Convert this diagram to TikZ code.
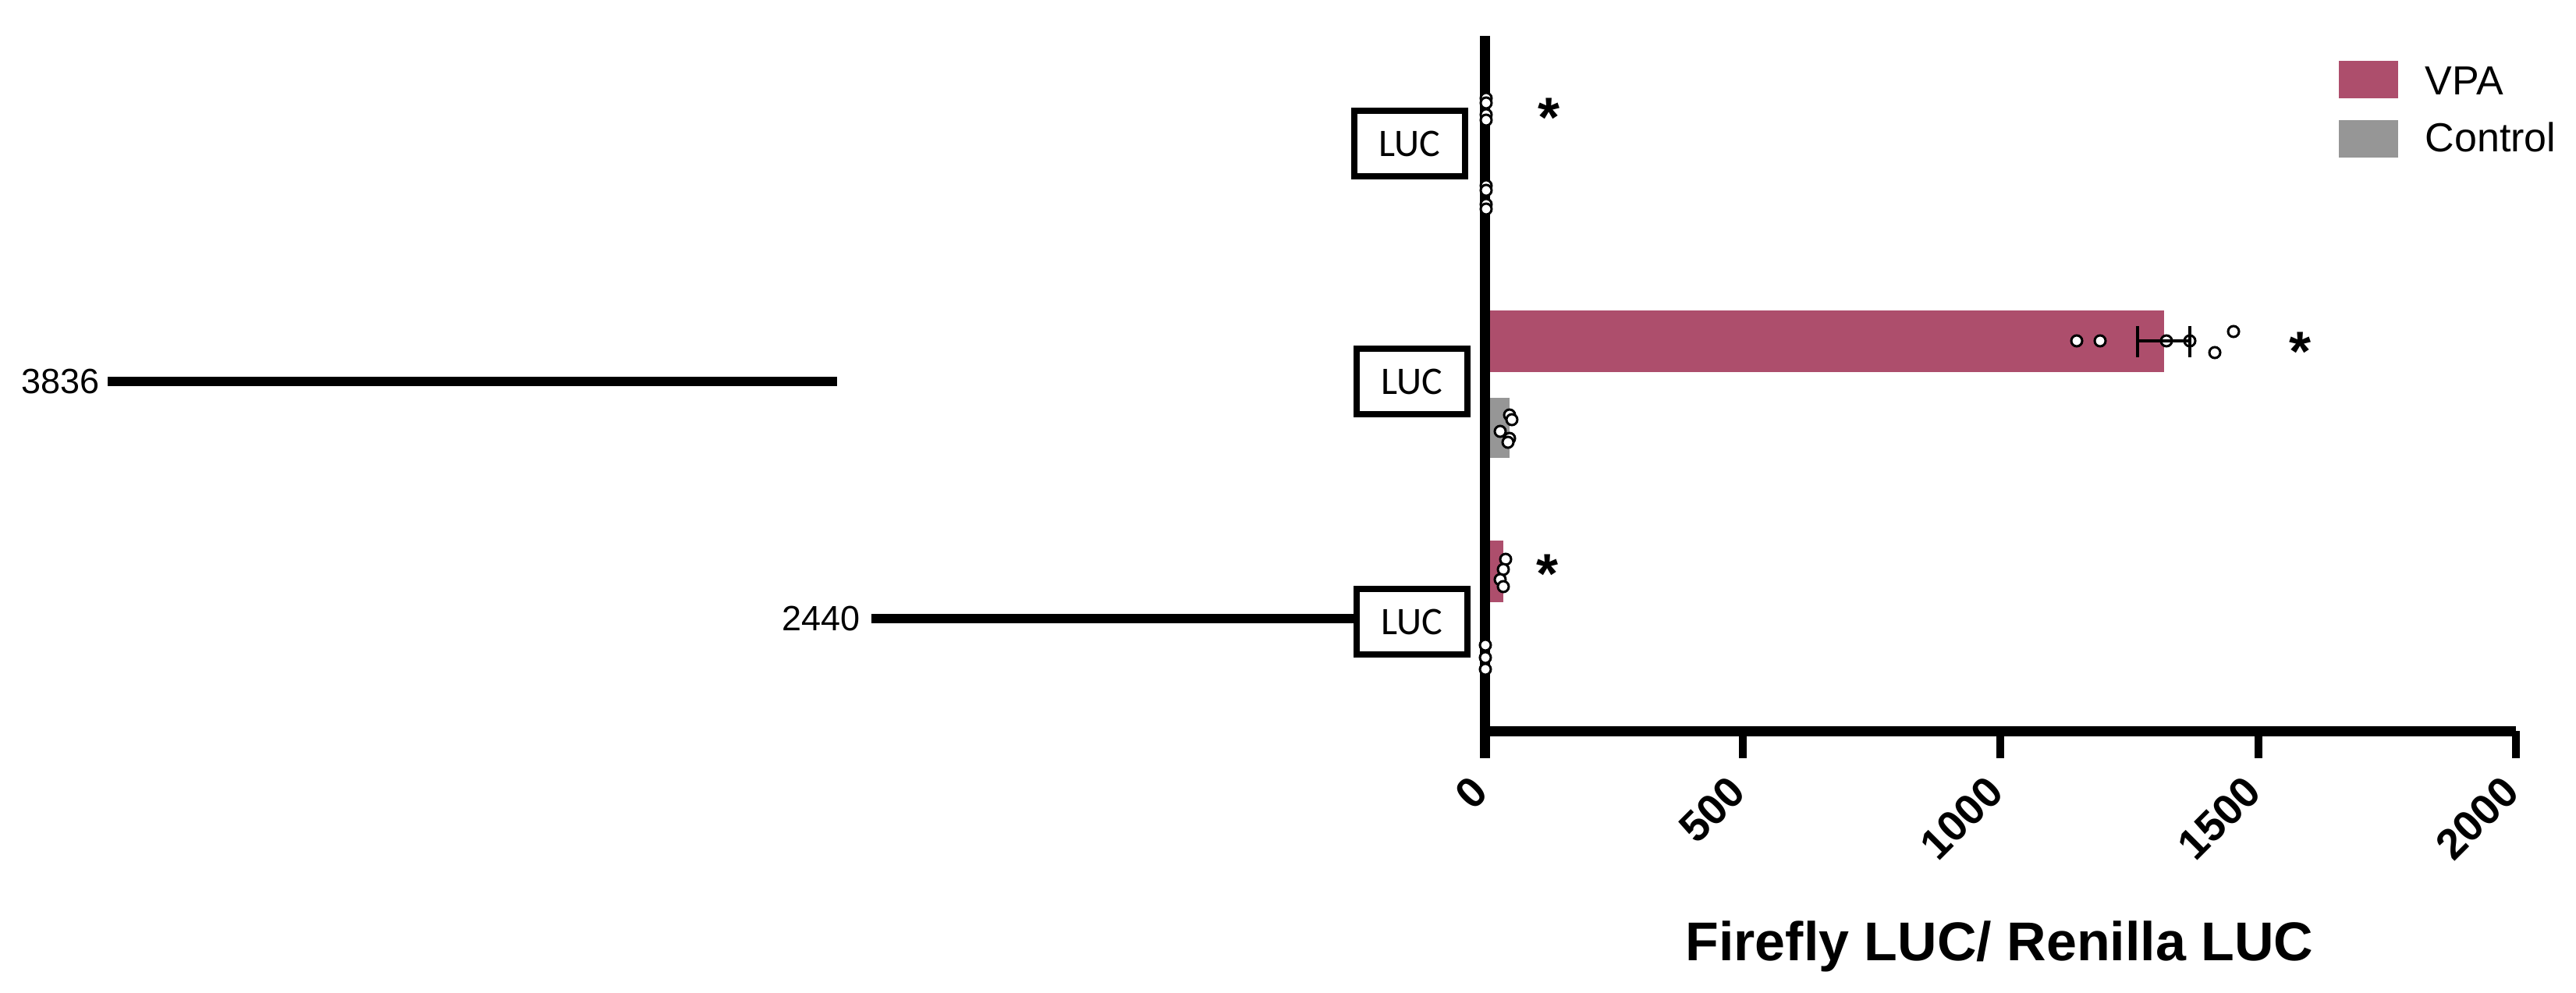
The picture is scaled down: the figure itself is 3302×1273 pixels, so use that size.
\documentclass[tikz,border=0pt]{standalone}
\usepackage{fontspec}
\setmainfont{Liberation Sans}
\newfontfamily\lucfont{Carlito}
\usetikzlibrary{positioning}
\definecolor{vpacol}{RGB}{173,78,108}
\definecolor{ctrlcol}{RGB}{150,150,150}

\begin{document}
\begin{tikzpicture}[x=0.25pt, y=-0.25pt,
    lucbox/.style={draw, line width=2pt, minimum width=35.5pt, minimum height=21pt, inner sep=0pt, font=\lucfont\fontsize{12.5pt}{14pt}\selectfont},
    construct/.style={line width=3pt},
    axisline/.style={line width=3.25pt},
    tickline/.style={line width=2.5pt},
    dot/.style={draw, fill=white, line width=0.75pt},
    errbar/.style={line width=1pt},
    ticklab/.style={anchor=east, rotate=45, inner sep=0pt, font=\bfseries\fontsize{13.75pt}{16pt}\selectfont},
    star/.style={anchor=north, inner sep=0pt, font=\bfseries\fontsize{18pt}{20pt}\selectfont},
    swatch/.style={minimum width=19pt, minimum height=12pt, inner sep=0pt},
    legtext/.style={anchor=base west, inner sep=0pt, font=\fontsize{13pt}{15pt}\selectfont},
    numlab/.style={inner sep=0pt, font=\fontsize{11.25pt}{13pt}\selectfont}]
\useasboundingbox (0,0) rectangle (3302,1273);

% bars
\fill [vpacol] (1903,398) rectangle (2774,477);
\fill [ctrlcol] (1903,510) rectangle (1935,587);
\fill [vpacol] (1903,693) rectangle (1927,772);

% axes
\draw [axisline] (1903,46) -- (1903,972);
\draw [axisline] (1903,937) -- (3225,937);
\foreach \i/\v in {0/0,1/500,2/1000,3/1500,4/2000} {
    \draw [tickline] ({1903+\i*330.5},937) -- ++(0,35);
    \node[ticklab] (tick\i) at ({1897+\i*330.5},1005) {\v};
}
\node[anchor=base, inner sep=0pt, font=\bfseries\fontsize{17.5pt}{20pt}\selectfont] (xtitle) at (2563,1231) {Firefly LUC/ Renilla LUC};

% data points
\foreach \x/\y in {1905/126,1905/132,1905/147,1905/154,
                   1905/238,1905/244,1905/262,1905/268,
                   2662/437,2692/437,2777/437,2807/437,2839/452,2863/425,
                   1935/532,1938/538,1923/553,1935/562,1933/567,
                   1930/717,1927/730,1923/743,1927/752,
                   1904/827,1904/843,1904/858} {
    \draw [dot] (\x,\y) circle (7);
}
\draw [errbar] (2740,437) -- (2807,437);
\draw [errbar] (2740,418) -- (2740,458);
\draw [errbar] (2807,418) -- (2807,458);

% significance
\node[star] (star1) at (1985,125) {*};
\node[star] (star2) at (2948,425) {*};
\node[star] (star3) at (1983,710) {*};

% constructs
\node[lucbox] (luc1) at (1807,184) {LUC};
\node[lucbox] (luc2) at (1810,489) {LUC};
\node[lucbox] (luc3) at (1810,797) {LUC};

\coordinate (l1a) at (138,489);
\coordinate (l1b) at (1073,489);
\draw [construct] (l1a) -- (l1b);
\node[numlab, left=2.5pt of l1a] (n3836) {3836};

\coordinate (l2a) at (1117,793);
\draw [construct] (l2a) -- (l2a -| luc3.west);
\node[numlab, left=3.5pt of l2a] (n2440) {2440};

% legend
\node[swatch, fill=vpacol] (legvpa) at (3036,102) {};
\node[legtext] (legvpatext) at (3108,122) {VPA};
\node[swatch, fill=ctrlcol] (legctrl) at (3036,178) {};
\node[legtext] (legctrltext) at (3108,195) {Control};
\end{tikzpicture}
\end{document}
